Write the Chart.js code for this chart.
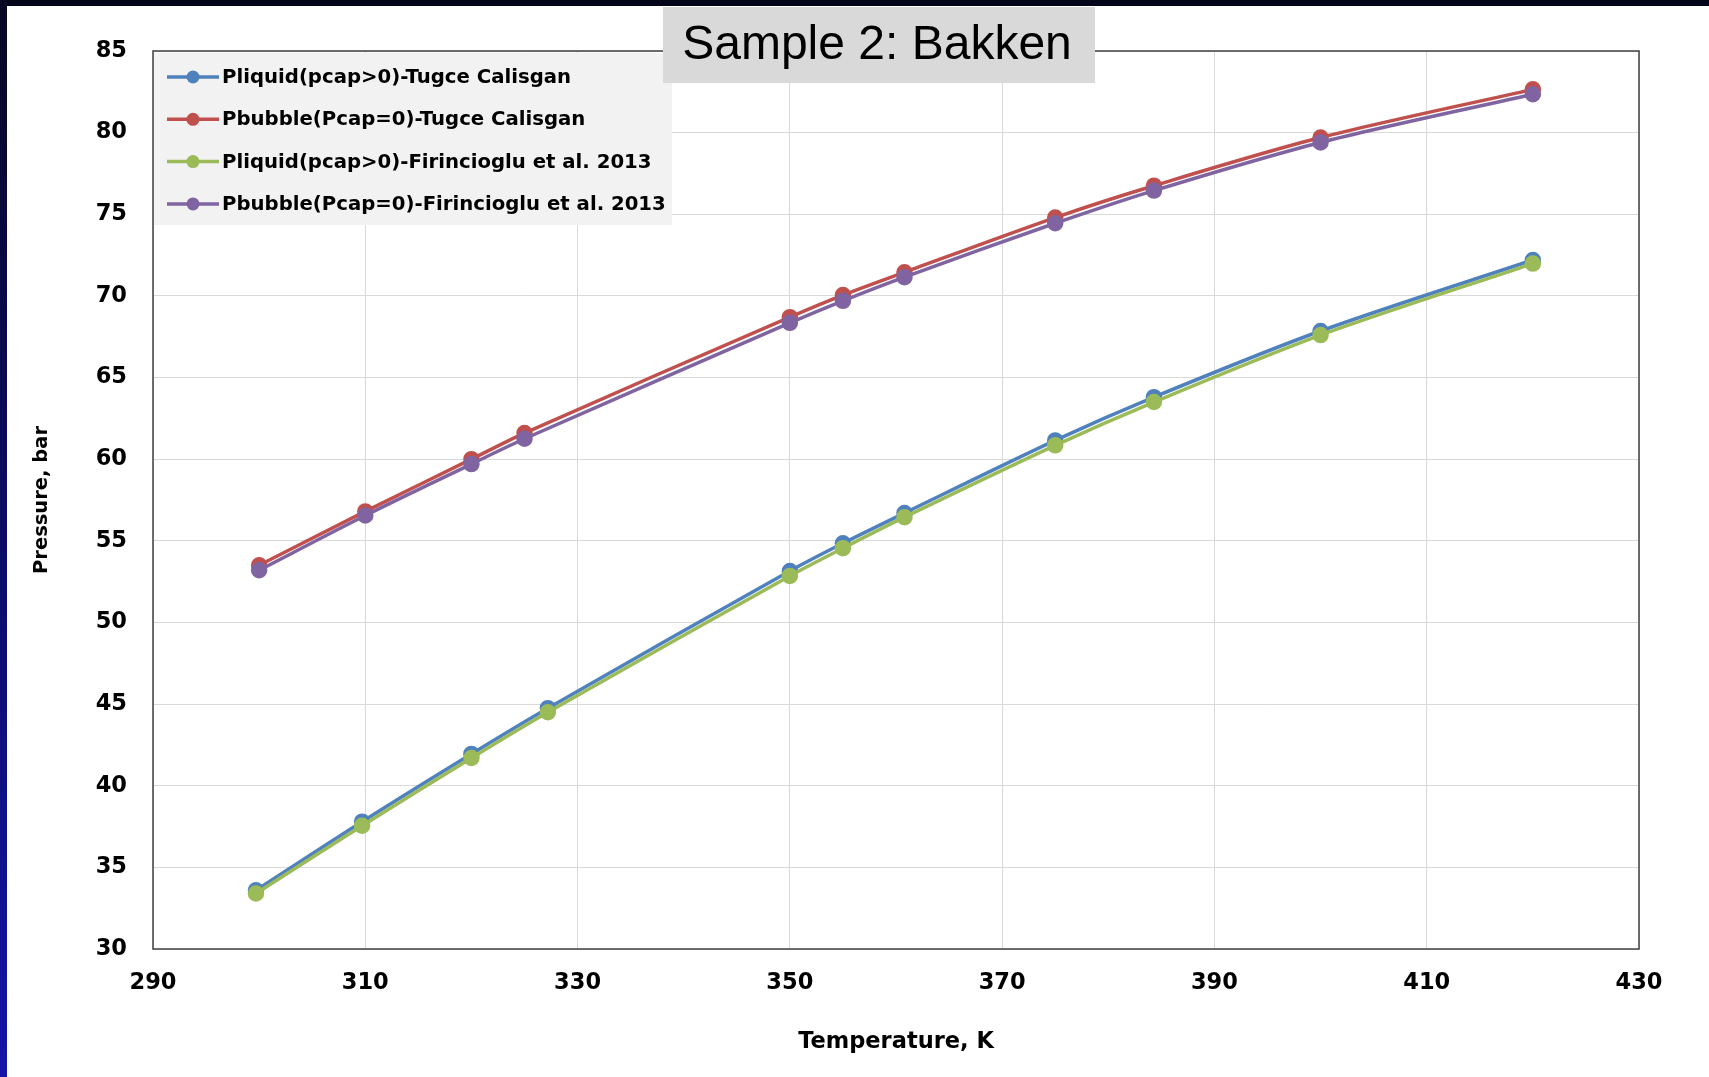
<!DOCTYPE html>
<html lang="en">
<head>
<meta charset="UTF-8">
<title>Sample 2: Bakken</title>
<style>
  html, body { margin: 0; padding: 0; background: #fff; overflow: hidden; }
</style>
</head>
<body>
<canvas id="myChart" width="1709" height="1077"></canvas>
<script src="https://cdn.jsdelivr.net/npm/chart.js"></script>
<script>
// temperatures, K (the Calisgan / Firincioglu pairs share x positions)
const tempBubble = [300, 310, 320, 325, 350, 355, 360.8, 375, 384.3, 400, 420];
const tempLiquid = [299.7, 309.7, 320, 327.2, 350, 355, 360.8, 375, 384.3, 400, 420];

// pressures, bar
const pliquidCalisgan = [33.6, 37.8, 41.95, 44.75, 53.15, 54.85, 56.7, 61.15, 63.8, 67.85, 72.2];
const pbubbleCalisgan = [53.5, 56.8, 60.0, 61.6, 68.7, 70.05, 71.45, 74.8, 76.75, 79.7, 82.65];
const pliquidFirincioglu = [33.4, 37.55, 41.7, 44.5, 52.85, 54.55, 56.45, 60.85, 63.5, 67.6, 71.98];
const pbubbleFirincioglu = [53.2, 56.55, 59.7, 61.25, 68.35, 69.7, 71.15, 74.45, 76.45, 79.4, 82.35];

const seriesNames = [
    'Pliquid(pcap>0)-Tugce Calisgan',
    'Pbubble(Pcap=0)-Tugce Calisgan',
    'Pliquid(pcap>0)-Firincioglu et al. 2013',
    'Pbubble(Pcap=0)-Firincioglu et al. 2013'
];
const seriesColors = ['#4f81bd', '#c0504d', '#9bbb59', '#8064a2'];

const chartTitle = 'Sample 2: Bakken';
const xTitle = 'Temperature, K';
const yTitle = 'Pressure, bar';

const tickFont = { family: 'DejaVu Sans', size: 22.5, weight: 'bold' };

function toPoints(xs, ys) {
    return xs.map((x, i) => ({ x: x, y: ys[i] }));
}

function makeSet(idx, xs, ys, order) {
    return {
        label: seriesNames[idx],
        data: toPoints(xs, ys),
        borderColor: seriesColors[idx],
        backgroundColor: seriesColors[idx],
        pointBackgroundColor: seriesColors[idx],
        pointBorderColor: seriesColors[idx],
        pointRadius: 6.5,
        borderWidth: 3.5,
        showLine: true,
        tension: 0.3,
        order: order
    };
}

// background: white slide with dark top edge and blue left edge
const slideBackground = {
    id: 'slideBackground',
    beforeDraw(chart) {
        const { ctx, width, height } = chart;
        ctx.save();
        ctx.fillStyle = '#ffffff';
        ctx.fillRect(0, 0, width, height);
        ctx.fillStyle = '#05051a';
        ctx.fillRect(0, 0, width, 6);
        const g = ctx.createLinearGradient(0, 0, 0, height);
        g.addColorStop(0, '#070722');
        g.addColorStop(0.5, '#0b0b66');
        g.addColorStop(1, '#1414a8');
        ctx.fillStyle = g;
        ctx.fillRect(0, 0, 7, height);
        ctx.restore();
    }
};

// plot area outline on all four sides
const plotFrame = {
    id: 'plotFrame',
    beforeDatasetsDraw(chart) {
        const { ctx, chartArea } = chart;
        ctx.save();
        ctx.strokeStyle = '#404040';
        ctx.lineWidth = 1.5;
        ctx.strokeRect(chartArea.left, chartArea.top,
            chartArea.right - chartArea.left, chartArea.bottom - chartArea.top);
        ctx.restore();
    }
};

// legend box inside the plot + grey title box
const overlay = {
    id: 'overlay',
    afterDraw(chart) {
        const { ctx } = chart;
        ctx.save();

        // legend
        ctx.fillStyle = '#f2f2f2';
        ctx.fillRect(154, 53, 518, 172);
        ctx.font = 'bold 19.7px "DejaVu Sans"';
        ctx.textBaseline = 'middle';
        ctx.textAlign = 'left';
        seriesNames.forEach((name, i) => {
            const y = 77 + i * 42.3;
            ctx.strokeStyle = seriesColors[i];
            ctx.lineWidth = 3.5;
            ctx.beginPath();
            ctx.moveTo(167, y);
            ctx.lineTo(219, y);
            ctx.stroke();
            ctx.fillStyle = seriesColors[i];
            ctx.beginPath();
            ctx.arc(193, y, 6.5, 0, Math.PI * 2);
            ctx.fill();
            ctx.fillStyle = '#000';
            ctx.fillText(name, 222, y + 1);
        });

        // title
        ctx.fillStyle = '#d9d9d9';
        ctx.fillRect(663, 7, 432, 76);
        ctx.fillStyle = '#000';
        ctx.font = '48px "Liberation Sans"';
        ctx.textAlign = 'center';
        ctx.textBaseline = 'middle';
        ctx.fillText(chartTitle, 877, 46);

        ctx.restore();
    }
};

const ctx = document.getElementById('myChart').getContext('2d');
const chart = new Chart(ctx, {
    type: 'scatter',
    data: {
        datasets: [
            makeSet(0, tempLiquid, pliquidCalisgan, 3),
            makeSet(1, tempBubble, pbubbleCalisgan, 2),
            makeSet(2, tempLiquid, pliquidFirincioglu, 1),
            makeSet(3, tempBubble, pbubbleFirincioglu, 0)
        ]
    },
    options: {
        responsive: false,
        animation: false,
        devicePixelRatio: 1,
        layout: { padding: { left: 20, top: 51, right: 70, bottom: 0 } },
        plugins: {
            legend: { display: false },
            tooltip: { enabled: false },
            title: { display: false }
        },
        scales: {
            x: {
                type: 'linear',
                min: 290,
                max: 430,
                ticks: { stepSize: 20, padding: 21, color: '#000', font: tickFont },
                grid: { color: '#d9d9d9', lineWidth: 1, drawTicks: false },
                border: { display: false },
                title: {
                    display: true,
                    text: xTitle,
                    color: '#000',
                    font: tickFont,
                    padding: { top: 21, bottom: 21 }
                },
                afterFit: s => { s.height = 128; }
            },
            y: {
                min: 30,
                max: 85,
                ticks: { stepSize: 5, padding: 26, color: '#000', font: tickFont },
                grid: { color: '#d9d9d9', lineWidth: 1, drawTicks: false },
                border: { display: false },
                title: {
                    display: true,
                    text: yTitle,
                    color: '#000',
                    font: { family: 'DejaVu Sans', size: 19.5, weight: 'bold' },
                    padding: { top: 10, bottom: 10 }
                },
                afterFit: s => { s.width = 133; }
            }
        }
    },
    plugins: [slideBackground, plotFrame, overlay]
});
</script>
</body>
</html>
